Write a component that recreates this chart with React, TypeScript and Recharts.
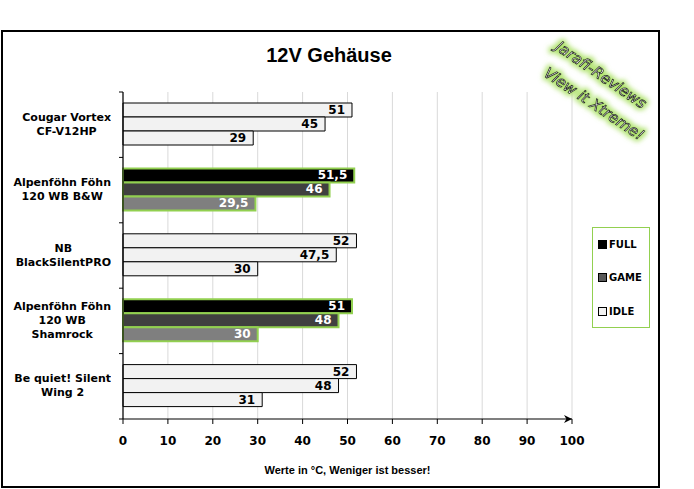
import React from 'react';
import { BarChart, Bar, XAxis, YAxis, CartesianGrid, Cell, LabelList } from 'recharts';

const categories = [
  'Cougar Vortex\nCF-V12HP',
  'Alpenföhn Föhn\n120 WB B&W',
  'NB\nBlackSilentPRO',
  'Alpenföhn Föhn\n120 WB\nShamrock',
  'Be quiet! Silent\nWing 2',
];
const fullValues = [51, 51.5, 52, 51, 52];
const gameValues = [45, 46, 47.5, 48, 48];
const idleValues = [29, 29.5, 30, 30, 31];
const highlighted = [false, true, false, true, false];
const xTicks = [0, 10, 20, 30, 40, 50, 60, 70, 80, 90, 100];
const seriesNames = ['FULL', 'GAME', 'IDLE'];
const titleText = '12V Gehäuse';
const xAxisTitle = 'Werte in °C, Weniger ist besser!';
const watermarkLines = ['Jarafi-Reviews', 'View it Xtreme!'];

const data = categories.map((name, i) => ({
  name,
  full: fullValues[i],
  game: gameValues[i],
  idle: idleValues[i],
  hl: highlighted[i],
}));

const W = 694;
const H = 489;
const MARGIN = { top: 92, right: 122, bottom: 30, left: 0 };
const Y_AXIS_W = 123;
const X_AXIS_H = 40;
const PLOT_H = H - MARGIN.top - MARGIN.bottom - X_AXIS_H;
const BAND = PLOT_H / categories.length;

const HL_FILLS = ['#000000', '#404040', '#7f7f7f'];
const LEGEND_FILLS = ['#000000', '#595959', '#f2f2f2'];
const LIGHT = '#f2f2f2';
const GREEN = '#92d050';

const fmt = (v: number) => String(v).replace('.', ',');

const YTick = (props: any) => {
  const { y, payload, index } = props;
  const lines = String(payload.value).split('\n');
  return (
    <g>
      <line x1={119} x2={123} y1={y - BAND / 2} y2={y - BAND / 2} stroke="#000" strokeWidth={1} />
      {index === categories.length - 1 && (
        <line x1={119} x2={123} y1={y + BAND / 2} y2={y + BAND / 2} stroke="#000" strokeWidth={1} />
      )}
      <foreignObject x={0} y={y - 35} width={111} height={70}>
        <div
          style={{
            width: 111,
            height: 70,
            display: 'flex',
            justifyContent: 'flex-end',
            alignItems: 'center',
          }}
        >
          <div
            style={{
              textAlign: 'center',
              fontFamily: '"DejaVu Sans", sans-serif',
              fontWeight: 'bold',
              fontSize: 11,
              lineHeight: '14px',
              color: '#000',
              whiteSpace: 'nowrap',
            }}
          >
            {lines.map((l, k) => (
              <div key={k}>{l}</div>
            ))}
          </div>
        </div>
      </foreignObject>
    </g>
  );
};

const makeLabel = (props: any) => {
  const { x, y, width, height, value, index } = props;
  const hl = highlighted[index];
  return (
    <text
      x={Number(x) + Number(width) - 7}
      y={Number(y) + Number(height) / 2}
      textAnchor="end"
      dominantBaseline="central"
      fill={hl ? '#ffffff' : '#000000'}
      fontFamily='"DejaVu Sans", sans-serif'
      fontWeight="bold"
      fontSize={12}
    >
      {fmt(value)}
    </text>
  );
};

const LegendBox = () => (
  <div
    style={{
      position: 'absolute',
      left: 592,
      top: 227,
      width: 58,
      height: 101,
      boxSizing: 'border-box',
      border: `1.5px solid ${GREEN}`,
      background: '#fff',
    }}
  >
    {seriesNames.map((n, i) => (
      <div
        key={n}
        style={{
          position: 'absolute',
          left: 5,
          top: 16 + i * 33.5 - 7,
          height: 14,
          display: 'flex',
          alignItems: 'center',
        }}
      >
        <span
          style={{
            display: 'inline-block',
            width: 7,
            height: 7,
            background: LEGEND_FILLS[i],
            border: '1px solid #000',
            marginRight: 2,
          }}
        />
        <span
          style={{
            fontFamily: '"DejaVu Sans", sans-serif',
            fontWeight: 'bold',
            fontSize: 10,
            color: '#000',
          }}
        >
          {n}
        </span>
      </div>
    ))}
  </div>
);

const keys = ['full', 'game', 'idle'];

export default function App() {
  return (
    <div style={{ position: 'absolute', left: 0, top: 0, width: W, height: H, background: '#fff', overflow: 'hidden' }}>
      <svg width={0} height={0} style={{ position: 'absolute' }}>
        <defs>
          <marker id="xarrow" viewBox="0 0 10 10" refX={10} refY={5} markerWidth={8} markerHeight={8} markerUnits="userSpaceOnUse" orient="auto">
            <path d="M0,0 L10,5 L0,10 L3,5 z" fill="#000" />
          </marker>
          <filter id="glow" x="-30%" y="-80%" width="160%" height="260%">
            <feMorphology in="SourceAlpha" operator="dilate" radius="2" result="d" />
            <feGaussianBlur in="d" stdDeviation="2.5" result="b" />
            <feFlood floodColor="#a8e060" floodOpacity="0.9" />
            <feComposite in2="b" operator="in" result="g" />
            <feMerge>
              <feMergeNode in="g" />
              <feMergeNode in="SourceGraphic" />
            </feMerge>
          </filter>
        </defs>
      </svg>
      <div
        style={{
          position: 'absolute',
          left: 1,
          top: 30,
          width: 659,
          height: 458,
          boxSizing: 'border-box',
          border: '2px solid #000',
        }}
      />
      <div style={{ position: 'absolute', left: 0, top: 0 }}>
        <BarChart
          width={W}
          height={H}
          data={data}
          layout="vertical"
          margin={MARGIN}
          barCategoryGap={11}
          barGap={0}
        >
          <CartesianGrid horizontal={false} stroke="#d9d9d9" />
          <XAxis
            type="number"
            domain={[0, 100]}
            ticks={xTicks}
            height={X_AXIS_H}
            tickSize={5}
            tickMargin={12}
            axisLine={{ stroke: '#000', strokeWidth: 1.2, markerEnd: 'url(#xarrow)' } as any}
            tickLine={{ stroke: '#000' }}
            tick={{ fill: '#000', fontFamily: '"DejaVu Sans", sans-serif', fontWeight: 'bold', fontSize: 12 }}
            interval={0}
          />
          <YAxis
            type="category"
            dataKey="name"
            width={Y_AXIS_W}
            axisLine={{ stroke: '#000', strokeWidth: 1.2 }}
            tickLine={false}
            tick={<YTick />}
            interval={0}
          />
          {keys.map((k, si) => (
            <Bar key={k} dataKey={k} name={seriesNames[si]} isAnimationActive={false} fill={LEGEND_FILLS[si]}>
              {data.map((d, i) => (
                <Cell
                  key={i}
                  fill={d.hl ? HL_FILLS[si] : LIGHT}
                  stroke={d.hl ? GREEN : '#000'}
                  strokeWidth={d.hl ? 2 : 1}
                />
              ))}
              <LabelList dataKey={k} content={makeLabel} />
            </Bar>
          ))}
        </BarChart>
      </div>
      <LegendBox />
      <div
        style={{
          position: 'absolute',
          left: 229,
          width: 200,
          top: 45,
          lineHeight: '20px',
          textAlign: 'center',
          fontFamily: '"Liberation Sans", Arial, sans-serif',
          fontWeight: 'bold',
          fontSize: 20,
          color: '#000',
        }}
      >
        {titleText}
      </div>
      <div
        style={{
          position: 'absolute',
          left: 123,
          width: 449,
          top: 463,
          lineHeight: '14px',
          textAlign: 'center',
          fontFamily: '"Liberation Sans", Arial, sans-serif',
          fontWeight: 'bold',
          fontSize: 11,
          color: '#000',
        }}
      >
        {xAxisTitle}
      </div>
      <svg width={W} height={H} style={{ position: 'absolute', left: 0, top: 0, pointerEvents: 'none' }}>
        <g filter="url(#glow)">
          <text
            x={601}
            y={80}
            textAnchor="middle"
            transform="rotate(34.5 601 75)"
            fontFamily='"DejaVu Sans", sans-serif'
            fontStyle="italic"
            fontSize={15}
            fill="#fff"
            stroke="#222"
            strokeWidth={0.8}
          >
            {watermarkLines[0]}
          </text>
          <text
            x={594}
            y={109}
            textAnchor="middle"
            transform="rotate(34 594 104)"
            fontFamily='"DejaVu Sans", sans-serif'
            fontStyle="italic"
            fontSize={15}
            fill="#fff"
            stroke="#222"
            strokeWidth={0.8}
          >
            {watermarkLines[1]}
          </text>
        </g>
      </svg>
    </div>
  );
}
